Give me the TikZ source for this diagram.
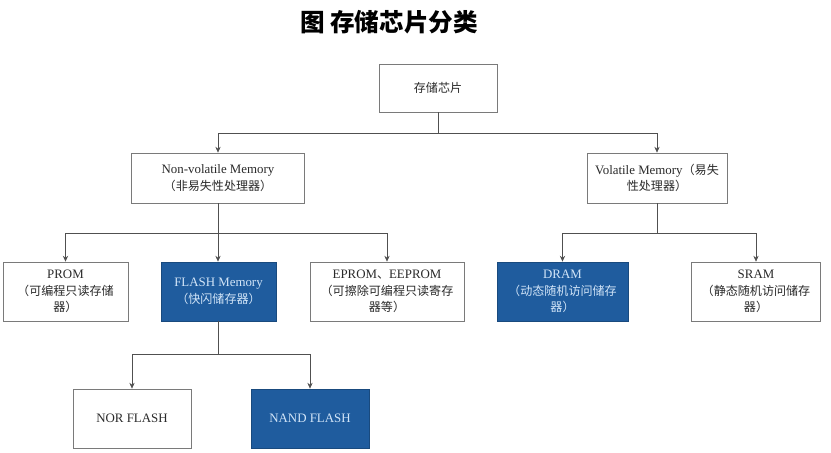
\documentclass[tikz,border=0pt]{standalone}
\usepackage{fontspec}
\setmainfont{Liberation Serif}
\newfontfamily\cjk{Noto Sans CJK SC}
\newcommand{\zh}[1]{{\cjk\fontsize{10.3}{14}\selectfont #1}}
\usetikzlibrary{arrows.meta}

\definecolor{linegray}{HTML}{505050}
\definecolor{boxgray}{HTML}{7A7A7A}
\definecolor{txtgray}{HTML}{2A2A2A}
\definecolor{flashblue}{HTML}{1F5C9E}
\definecolor{paleblue}{HTML}{D2E5F8}

\tikzset{
  plain/.style={draw=boxgray, fill=white, text=txtgray, align=center, inner sep=0pt,
    font=\fontsize{11}{14}\selectfont},
  hilite/.style={draw=flashblue!80!black, fill=flashblue, text=paleblue, align=center, inner sep=0pt,
    font=\fontsize{11}{14}\selectfont},
  link/.style={draw=linegray},
  arr/.style={link, -{Stealth[length=5pt, width=4.5pt]}}
}

\begin{document}
\begin{tikzpicture}[x=0.03cm, y=-0.03cm, line width=0.6pt]
  % frame of the picture (831 x 453)
  \useasboundingbox (0,0) rectangle (831,453);

  % title
  \node (title) at (389,22) {\fontsize{21}{24}\selectfont\cjk\bfseries 图 存储芯片分类};

  % root
  \node[plain, minimum width=3.54cm, minimum height=1.44cm] (chip) at (438,88) {\zh{存储芯片}};

  % level 1
  \node[plain, minimum width=5.19cm, minimum height=1.5cm] (nvm) at (218,178)
    {Non-volatile Memory\\\zh{（非易失性处理器）}};
  \node[plain, minimum width=4.2cm, minimum height=1.5cm] (vm) at (657,178)
    {Volatile Memory\zh{（易失}\\\zh{性处理器）}};

  % level 2
  \node[plain, minimum width=3.75cm, minimum height=1.77cm] (prom) at (65.5,291.5)
    {PROM\\\zh{（可编程只读存储}\\\zh{器）}};
  \node[hilite, minimum width=3.45cm, minimum height=1.77cm] (flash) at (218.5,291.5)
    {FLASH Memory\\\zh{（快闪储存器）}};
  \node[plain, minimum width=4.62cm, minimum height=1.77cm] (eprom) at (387,291.5)
    {EPROM\zh{、}EEPROM\\\zh{（可擦除可编程只读寄存}\\\zh{器等）}};
  \node[hilite, minimum width=3.93cm, minimum height=1.77cm] (dram) at (562.5,291.5)
    {DRAM\\\zh{（动态随机访问储存}\\\zh{器）}};
  \node[plain, minimum width=3.87cm, minimum height=1.77cm] (sram) at (756,291.5)
    {SRAM\\\zh{（静态随机访问储存}\\\zh{器）}};

  % level 3
  \node[plain, minimum width=3.54cm, minimum height=1.77cm] (nor) at (132,418.5) {NOR FLASH};
  \node[hilite, minimum width=3.54cm, minimum height=1.77cm] (nand) at (310,418.5) {NAND FLASH};

  % junctions
  \coordinate (j0) at (438,133);
  \coordinate (j1) at (218,233);
  \coordinate (j2) at (657,233);
  \coordinate (j3) at (218.5,354);

  % connectors
  \draw[link] (chip.south) -- (j0);
  \draw[arr] (j0) -| (nvm.north);
  \draw[arr] (j0) -| (vm.north);

  \draw[link] (nvm.south) -- (j1);
  \draw[arr] (j1) -| (prom.north);
  \draw[arr] (j1) -- (flash.north -| j1);
  \draw[arr] (j1) -| (eprom.north);

  \draw[link] (vm.south) -- (j2);
  \draw[arr] (j2) -| (dram.north);
  \draw[arr] (j2) -| (sram.north);

  \draw[link] (flash.south) -- (j3);
  \draw[arr] (j3) -| (nor.north);
  \draw[arr] (j3) -| (nand.north);
\end{tikzpicture}
\end{document}
